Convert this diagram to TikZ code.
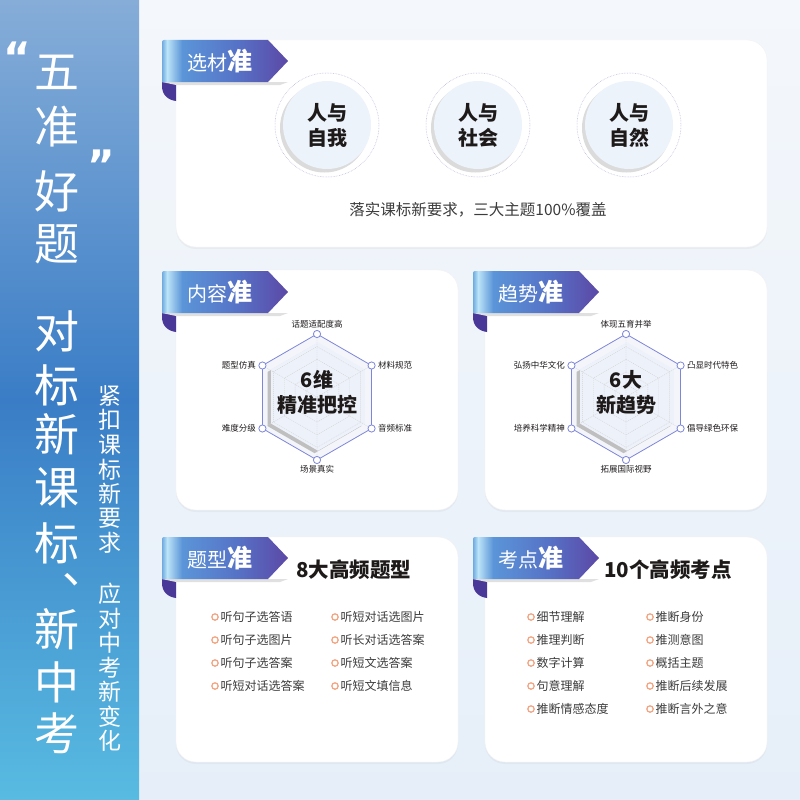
\documentclass[tikz,border=0pt]{standalone}
\usepackage{fontspec}
\setmainfont{Noto Sans CJK SC}
\newfontfamily\dejavu{DejaVu Sans}
\usetikzlibrary{shadows}
\definecolor{stripA}{HTML}{86ADD8}
\definecolor{stripB}{HTML}{3A7DC6}
\definecolor{stripC}{HTML}{58BBE1}
\definecolor{bgA}{HTML}{F4F7FB}
\definecolor{bgB}{HTML}{E6EFF9}
\definecolor{tabA}{HTML}{6FAAE0}
\definecolor{tabB}{HTML}{BDE4F8}
\definecolor{tabC}{HTML}{5B95D8}
\definecolor{tabD}{HTML}{5672C6}
\definecolor{tabE}{HTML}{5C48A6}
\definecolor{curlC}{HTML}{4A3899}
\definecolor{hexline}{HTML}{7E86D8}
\definecolor{hexbg}{HTML}{F3F5FB}
\definecolor{hexin}{HTML}{EDF1FA}
\definecolor{circfill}{HTML}{EDF3FB}
\definecolor{ringc}{HTML}{B4B4D8}
\definecolor{bulc}{HTML}{F2A27E}
\definecolor{txtdark}{HTML}{1E1A1A}
\definecolor{txtgray}{HTML}{3C3C3C}
\pgfdeclarehorizontalshading{tabshade}{100bp}{color(0bp)=(tabA); color(25bp)=(tabA); color(27bp)=(tabB); color(33bp)=(tabC); color(55bp)=(tabD); color(75bp)=(tabE); color(100bp)=(tabE)}
\newcommand\hexpath{(0,-63) -- (54.56,-31.5) -- (54.56,31.5) -- (0,63) -- (-54.56,31.5) -- (-54.56,-31.5) -- cycle}
\tikzset{
  card/.style={fill=white, draw=black!5, rounded corners=20pt, drop shadow={shadow xshift=0pt, shadow yshift=-2pt, opacity=.07}},
  bigchar/.style={text=white, font=\fontsize{45}{45}\selectfont, inner sep=0pt},
  smallchar/.style={text=white, font=\fontsize{23}{23}\selectfont, inner sep=0pt},
  tabtxt/.style={text=white, anchor=west, inner sep=0pt, font=\fontsize{20}{20}\selectfont},
  radlab/.style={text=txtdark, inner sep=0pt, font=\fontsize{8.5}{9}\selectfont},
  radctr/.style={text=txtdark, align=center, inner sep=0pt, font=\bfseries\fontsize{20}{25}\selectfont},
  circtxt/.style={text=txtdark, align=center, inner sep=0pt, font=\bfseries\fontsize{20}{25}\selectfont},
  itemtxt/.style={text=txtgray, anchor=west, inner sep=0pt, font=\fontsize{12}{12}\selectfont},
  cardtitle/.style={text=txtdark, inner sep=0pt, font=\bfseries\fontsize{20.5}{21}\selectfont},
  bul/.style={draw=bulc, line width=1.2pt, fill=white},
  gridl/.style={draw=black!18, line width=0.4pt, dash pattern=on 1pt off 1pt},
}
% tab: #1 name, #2 x, #3 y, #4 light text, #5 bold text
\newcommand\mytab[5]{%
  \begin{scope}[shift={(#2,#3)}]
    \fill[curlC] (0,38) -- (14,38) -- (14,61) .. controls (6,60) and (0,55) .. (0,46) -- cycle;
    \fill[black!12] (0,42) -- (126,42) -- (118,45) -- (14,45) -- cycle;
    \shade[shading=tabshade] (0,42) -- (0,2) [rounded corners=2pt] -- (0,0) [sharp corners] -- (106,0) -- (126,21) -- (106,42) -- cycle;
    \node[tabtxt] (#1) at (25,21) {#4{\bfseries\fontsize{25}{25}\selectfont #5}};
  \end{scope}}
% radar: #1 cx, #2 cy, #3 prefix, #4..#9 labels
\newcommand\myradar[9]{%
  \begin{scope}[shift={(#1,#2)}]
    \fill[hexbg] \hexpath;
    \fill[black!25, shift={(-2.5,2)}, scale=.86] \hexpath;
    \fill[hexin, shift={(1,-0.5)}, scale=.86] \hexpath;
    \foreach \s in {0.2,0.4,0.6,0.8} {\draw[gridl, scale=\s] \hexpath;}
    \draw[gridl] (0,-63) -- (0,63) (54.56,-31.5) -- (-54.56,31.5) (54.56,31.5) -- (-54.56,-31.5);
    \draw[hexline, line width=0.8pt] \hexpath;
    \foreach \p in {(0,-63),(54.56,-31.5),(54.56,31.5),(0,63),(-54.56,31.5),(-54.56,-31.5)}
      {\draw[hexline, fill=white, line width=0.8pt] \p circle (3.6);}
    \node[radlab, anchor=south] (#3a) at (0,-69) {#4};
    \node[radlab, anchor=west] (#3b) at (61,-31.5) {#5};
    \node[radlab, anchor=west] (#3c) at (61,31.5) {#6};
    \node[radlab, anchor=north] (#3d) at (0,68) {#7};
    \node[radlab, anchor=east] (#3e) at (-61,31.5) {#8};
    \node[radlab, anchor=east] (#3f) at (-61,-31.5) {#9};
  \end{scope}}
% list item: #1 name, #2 x of bullet, #3 y, #4 text
\newcommand\lstitem[4]{%
  \draw[bul] (#2,#3) circle (3.2);
  \node[itemtxt] (#1) at (#2+5.5,#3) {#4};}
% circle: #1 name, #2 cx, #3 cy, #4 text
\newcommand\topic[4]{%
  \draw[ringc, line width=0.5pt, dash pattern=on 0.6pt off 1pt] (#2,#3) circle (52);
  \fill[black!14] (#2-2.5,#3+3) circle (44.5);
  \fill[circfill] (#2,#3) circle (44);
  \node[circtxt] (#1) at (#2,#3) {#4};}
\begin{document}
\begin{tikzpicture}[x=1pt, y=-1pt]
\useasboundingbox (0,0) rectangle (800,800);
% backgrounds
\shade[top color=bgA, bottom color=bgB] (139,0) rectangle (800,800);
\shade[top color=stripA, bottom color=stripC, middle color=stripB] (0,0) rectangle (139,800);
% left strip text
\node[text=white, font=\dejavu\bfseries\fontsize{42}{42}\selectfont, inner sep=0pt, anchor=base] (q1) at (17,73) {“};
\node[text=white, font=\dejavu\bfseries\fontsize{42}{42}\selectfont, inner sep=0pt, anchor=base] (q2) at (101,180) {”};
\foreach \c/\yy [count=\i] in {五/72,准/127,好/191,题/244,对/331,标/385,新/434,课/488,标/543,新/629,中/682,考/733}
  {\node[bigchar] (b\i) at (57,\yy) {\c};}
\node[bigchar, anchor=base] (dun) at (85,583) {、};
\foreach \c [count=\i] in {紧,扣,课,标,新,要,求}
  {\node[smallchar] (s\i) at (110,{395.5+24.6*(\i-1)}) {\c};}
\foreach \c [count=\i] in {应,对,中,考,新,变,化}
  {\node[smallchar] (t\i) at (110,{594+24.5*(\i-1)}) {\c};}
% cards
\path[card] (176,40) rectangle (767,247);
\path[card] (176,270) rectangle (458,510);
\path[card] (485,270) rectangle (767,510);
\path[card] (176,537) rectangle (458,762);
\path[card] (485,537) rectangle (767,762);
% tabs
\mytab{tab1}{162}{40}{选材}{准}
\mytab{tab2}{162}{271}{内容}{准}
\mytab{tab3}{473}{271}{趋势}{准}
\mytab{tab4}{162}{537}{题型}{准}
\mytab{tab5}{473}{537}{考点}{准}
% card 1
\topic{c1}{327}{125}{人与\\自我}
\topic{c2}{478}{125}{人与\\社会}
\topic{c3}{629}{125}{人与\\自然}
\node[text=txtgray, inner sep=0pt, font=\fontsize{15.5}{16}\selectfont] (cap) at (478,210) {落实课标新要求，三大主题100\%覆盖};
% radar cards
\myradar{317}{397}{ra}{话题适配度高}{材料规范}{音频标准}{场景真实}{难度分级}{题型仿真}
\node[radctr] (ractr) at (317,392.5) {6维\\精准把控};
\myradar{626}{397}{rb}{体现五育并举}{凸显时代特色}{倡导绿色环保}{拓展国际视野}{培养科学精神}{弘扬中华文化}
\node[radctr] (rbctr) at (626,392.5) {6大\\新趋势};
% card 4
\node[cardtitle] (t4) at (354,570) {8大高频题型};
\lstitem{i1}{215}{617}{听句子选答语}
\lstitem{i2}{215}{640}{听句子选图片}
\lstitem{i3}{215}{663}{听句子选答案}
\lstitem{i4}{215}{686}{听短对话选答案}
\lstitem{i5}{335}{617}{听短对话选图片}
\lstitem{i6}{335}{640}{听长对话选答案}
\lstitem{i7}{335}{663}{听短文选答案}
\lstitem{i8}{335}{686}{听短文填信息}
% card 5
\node[cardtitle] (t5) at (668,570) {10个高频考点};
\lstitem{k1}{531}{617}{细节理解}
\lstitem{k2}{531}{640}{推理判断}
\lstitem{k3}{531}{663}{数字计算}
\lstitem{k4}{531}{686}{句意理解}
\lstitem{k5}{531}{709}{推断情感态度}
\lstitem{k6}{650}{617}{推断身份}
\lstitem{k7}{650}{640}{推测意图}
\lstitem{k8}{650}{663}{概括主题}
\lstitem{k9}{650}{686}{推断后续发展}
\lstitem{k10}{650}{709}{推断言外之意}
\end{tikzpicture}
\end{document}
